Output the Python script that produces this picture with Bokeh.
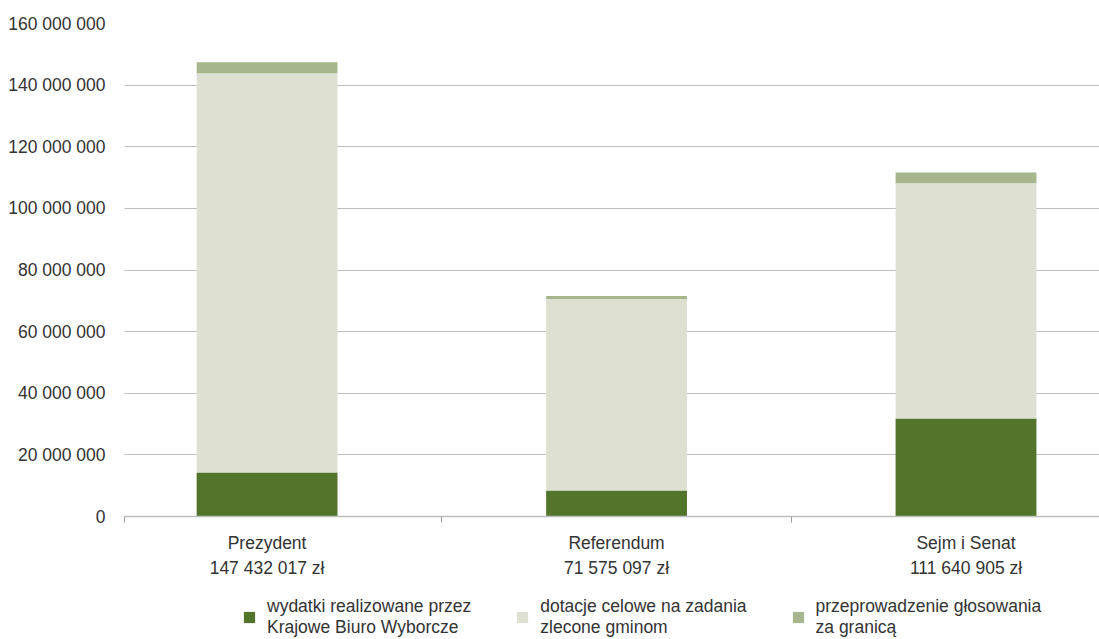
from bokeh.plotting import figure
from bokeh.models import ColumnDataSource, FixedTicker, Range1d, Legend
from bokeh.layouts import column
from bokeh.embed import file_html
from bokeh.resources import INLINE

categories = ["Prezydent\n147 432 017 zł", "Referendum\n71 575 097 zł", "Sejm i Senat\n111 640 905 zł"]
kbw = [14300000, 8400000, 31800000]
dotacje = [129532017, 62175097, 76340905]
zagranica = [3600000, 1000000, 3500000]
series_labels = ["wydatki realizowane przez\nKrajowe Biuro Wyborcze",
                 "dotacje celowe na zadania\nzlecone gminom",
                 "przeprowadzenie głosowania\nza granicą"]
colors = ["#52752B", "#DEE0D1", "#A7B68C"]
y_ticks = [0, 20000000, 40000000, 60000000, 80000000, 100000000, 120000000, 140000000, 160000000]
y_tick_labels = ["0", "20 000 000", "40 000 000", "60 000 000", "80 000 000",
                 "100 000 000", "120 000 000", "140 000 000", "160 000 000"]

FONT = "Liberation Sans"
TXT = "#333333"
FS = "17.5px"

xs = list(range(len(categories)))
src = ColumnDataSource(dict(x=xs, kbw=kbw, dot=dotacje, zag=zagranica))

p = figure(width=1099, height=580, output_backend="svg", toolbar_location=None,
           x_range=Range1d(-0.408, 2.382), y_range=Range1d(0, 160000000),
           min_border_left=124, min_border_right=0, min_border_top=23, min_border_bottom=64)
p.outline_line_color = None
p.background_fill_color = "white"
p.border_fill_color = "white"

renderers = p.vbar_stack(["kbw", "dot", "zag"], x="x", width=0.403, color=colors,
                         line_color=None, source=src)

# y axis
p.yaxis.ticker = FixedTicker(ticks=y_ticks)
p.yaxis.major_label_overrides = {t: l for t, l in zip(y_ticks, y_tick_labels)}
p.yaxis.axis_line_color = None
p.yaxis.major_tick_line_color = None
p.yaxis.major_tick_out = 0
p.yaxis.major_tick_in = 0
p.yaxis.minor_tick_line_color = None
p.yaxis.major_label_standoff = 19
p.yaxis.major_label_text_font = FONT
p.yaxis.major_label_text_font_size = FS
p.yaxis.major_label_text_color = TXT

# x axis
p.xaxis.ticker = FixedTicker(ticks=xs, minor_ticks=[-0.408, 0.5, 1.5])
p.xaxis.major_label_overrides = {i: c for i, c in zip(xs, categories)}
p.xaxis.axis_line_color = "#BEBEBE"
p.xaxis.axis_line_width = 1.5
p.xaxis.major_tick_line_color = None
p.xaxis.major_tick_out = 0
p.xaxis.major_tick_in = 0
p.xaxis.minor_tick_line_color = "#A0A0A0"
p.xaxis.minor_tick_out = 6
p.xaxis.minor_tick_in = 0
p.xaxis.major_label_standoff = 10
p.xaxis.major_label_text_font = FONT
p.xaxis.major_label_text_font_size = FS
p.xaxis.major_label_text_color = TXT
p.xaxis.major_label_text_line_height = 1.25

p.xgrid.grid_line_color = None
p.ygrid.ticker = FixedTicker(ticks=y_ticks)
p.ygrid.grid_line_color = "#BEBEBE"
p.ygrid.grid_line_width = 1

# legend strip (separate figure below the chart); zero-width proxies carry the legend swatches
lg = figure(width=1099, height=58, output_backend="svg", toolbar_location=None,
            x_range=Range1d(-0.408, 2.382), y_range=Range1d(0, 1),
            min_border_left=124, min_border_right=0, min_border_top=0, min_border_bottom=0)
lg.axis.visible = False
lg.grid.grid_line_color = None
lg.outline_line_color = None
lg.border_fill_color = "white"
lg_renderers = lg.vbar_stack(["kbw", "dot", "zag"], x="x", width=0, color=colors,
                             line_color=None, source=src)

legend = Legend(items=[(lab, [r]) for lab, r in zip(series_labels, lg_renderers)],
                orientation="horizontal", location=(118, 0))
legend.border_line_color = None
legend.background_fill_alpha = 0
legend.padding = 0
legend.margin = 0
legend.glyph_width = 14
legend.glyph_height = 14
legend.label_standoff = 11
legend.spacing = 44
legend.label_text_font = FONT
legend.label_text_font_size = FS
legend.label_text_color = TXT
legend.label_text_line_height = 1.2
lg.add_layout(legend, "center")

layout = column(p, lg, spacing=0)
open("out.html", "w").write(file_html(layout, INLINE))
